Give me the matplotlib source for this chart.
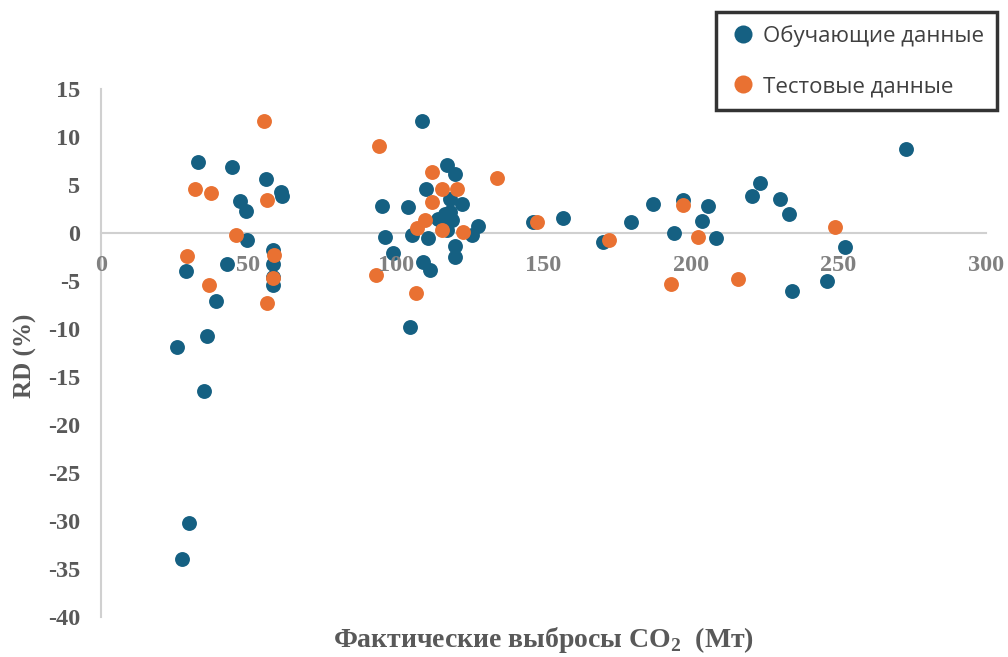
import matplotlib
matplotlib.use("Agg")
import matplotlib.pyplot as plt
from matplotlib.lines import Line2D

# ---- data ----
train_x = [33.0, 44.3, 55.8, 60.9, 61.4, 47.1, 49.1, 49.6, 58.2, 58.2, 58.2, 58.2,
           42.8, 28.8, 38.9, 36.0, 25.7, 35.0, 29.9, 27.4,
           108.9, 117.2, 120.0, 110.1, 95.2, 104.2, 122.3, 118.3, 118.3, 114.3, 118.9,
           116.0, 127.9, 125.8, 110.9, 96.3, 105.3, 120.0, 99.1, 120.0, 109.3, 111.5,
           104.7, 116.6, 117.3,
           146.3, 156.7, 170.1, 179.7, 187.0, 197.4, 205.9, 203.6, 194.2, 208.5,
           223.4, 220.8, 230.2, 233.3, 252.2, 246.2, 234.1, 272.8]
train_y = [7.4, 6.9, 5.6, 4.3, 3.9, 3.3, 2.3, -0.7, -1.8, -3.2, -4.6, -5.4,
           -3.2, -4.0, -7.1, -10.7, -11.9, -16.5, -30.2, -34.0,
           11.7, 7.1, 6.1, 4.6, 2.8, 2.7, 3.0, 3.5, 2.2, 1.5, 1.4,
           0.7, 0.7, -0.2, -0.55, -0.45, -0.2, -1.4, -2.1, -2.5, -3.0, -3.9,
           -9.8, 2.0, 0.3,
           1.1, 1.6, -0.9, 1.1, 3.0, 3.4, 2.8, 1.3, 0.0, -0.55,
           5.2, 3.9, 3.5, 2.0, -1.5, -5.0, -6.0, 8.8]

test_x = [55.3, 31.9, 37.2, 56.4, 45.8, 58.6, 58.3, 29.3, 36.5, 56.4,
          94.3, 112.1, 134.3, 115.7, 120.8, 112.1, 109.8, 107.0, 115.5, 122.8,
          93.2, 106.8,
          147.9, 172.3, 197.4, 202.5, 193.1, 216.0, 248.8]
test_y = [11.7, 4.6, 4.2, 3.4, -0.2, -2.3, -4.7, -2.4, -5.4, -7.3,
          9.1, 6.4, 5.7, 4.6, 4.6, 3.2, 1.35, 0.5, 0.3, 0.15,
          -4.4, -6.3,
          1.1, -0.7, 2.9, -0.4, -5.3, -4.8, 0.65]

x_ticks = [0, 50, 100, 150, 200, 250, 300]
y_ticks = [-40, -35, -30, -25, -20, -15, -10, -5, 0, 5, 10, 15]

series_labels = ["Обучающие данные", "Тестовые данные"]
series_colors = ["#156082", "#E97132"]

plt.rcParams["axes.unicode_minus"] = False
plt.rcParams["mathtext.fontset"] = "custom"
plt.rcParams["mathtext.rm"] = "Liberation Serif"
plt.rcParams["mathtext.bf"] = "Liberation Serif:bold"

fig = plt.figure(figsize=(10.08, 6.57), dpi=100)
ax = fig.add_axes([101 / 1008, 1 - 617 / 657, (986 - 101) / 1008, (617 - 89) / 657])

ax.scatter(train_x, train_y, s=115, color=series_colors[0], zorder=3, linewidths=0)
ax.scatter(test_x, test_y, s=115, color=series_colors[1], zorder=3, linewidths=0)

ax.set_xlim(0, 300)
ax.set_ylim(-40, 15)
ax.set_xticks(x_ticks)
ax.set_yticks(y_ticks)

for s in ["top", "right"]:
    ax.spines[s].set_visible(False)
ax.spines["bottom"].set_position(("data", 0))
for s in ["bottom", "left"]:
    ax.spines[s].set_color("#d0d0d0")
    ax.spines[s].set_linewidth(1.5)
    ax.spines[s].set_zorder(2)

ax.tick_params(axis="both", length=0)
ax.tick_params(axis="y", pad=15)
ax.tick_params(axis="x", pad=16)
for lab in ax.get_yticklabels():
    lab.set_fontfamily("Liberation Serif")
    lab.set_fontweight("bold")
    lab.set_fontsize(17.5)
    lab.set_color("#595959")
for lab in ax.get_xticklabels():
    lab.set_fontfamily("Liberation Serif")
    lab.set_fontweight("bold")
    lab.set_fontsize(17.5)
    lab.set_color("#808080")
ax.xaxis.set_zorder(4)

fig.text(25 / 1008, 1 - 356 / 657, "RD (%)", rotation=90, ha="center", va="center",
         fontfamily="Liberation Serif", fontweight="bold", fontsize=18, color="#595959")
fig.text(544 / 1008, 1 - 640 / 657, r"Фактические выбросы CO$_\mathbf{2}$  (Мт)",
         ha="center", va="center",
         fontfamily="Liberation Serif", fontweight="bold", fontsize=20, color="#595959")

handles = [Line2D([], [], marker="o", linestyle="none", markersize=13,
                  markerfacecolor=c, markeredgewidth=0) for c in series_colors]
leg = fig.legend(handles, series_labels, loc="upper right",
                 bbox_to_anchor=(997 / 1008, 1 - 12 / 657),
                 frameon=True, fancybox=False, edgecolor="black",
                 prop={"family": "Open Sans", "size": 16},
                 labelspacing=1.3, handletextpad=0.3, handlelength=1.2,
                 borderpad=0.6, borderaxespad=0)
leg.get_frame().set_linewidth(2.5)
for t in leg.get_texts():
    t.set_color("#404040")

fig.savefig("out.png", dpi=100)
